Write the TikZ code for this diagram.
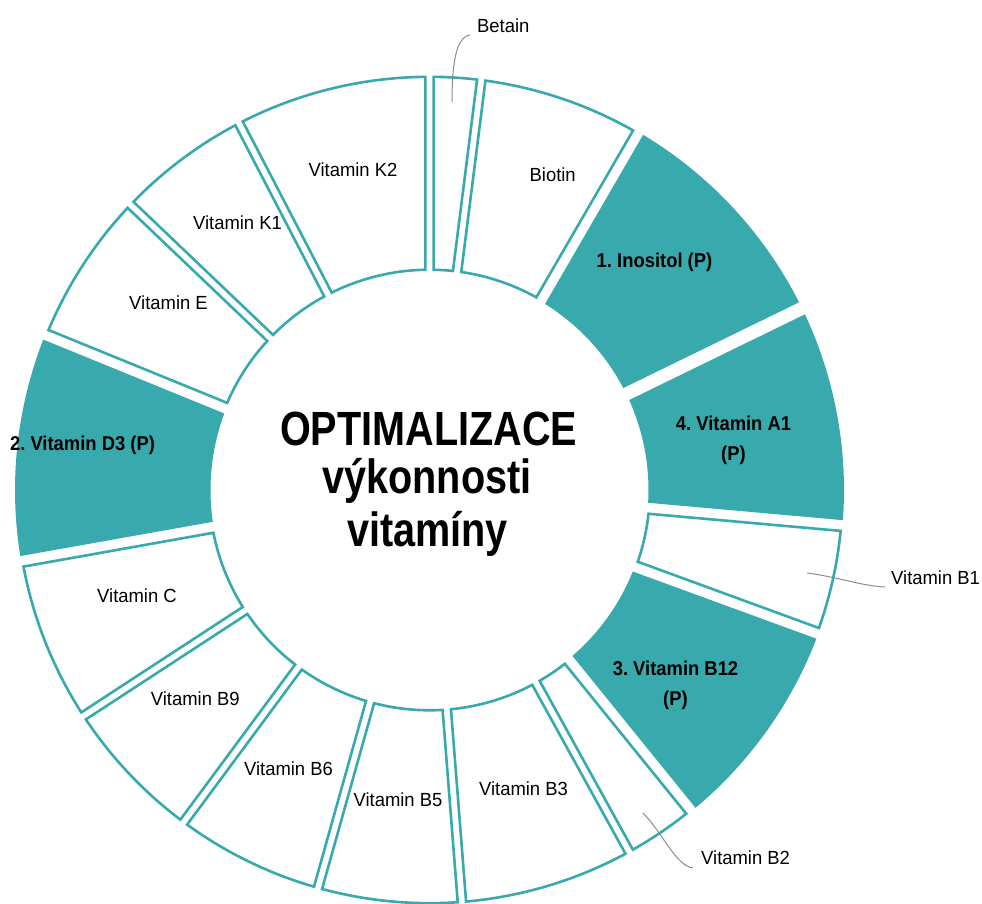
\documentclass[tikz,border=0pt]{standalone}
\usepackage{fontspec}
\setmainfont{Liberation Sans}
\newfontfamily\labfont[FakeStretch=0.97]{Liberation Sans}
\newfontfamily\boldlabfont[FakeStretch=0.92]{Liberation Sans}
\newfontfamily\titlefont[FakeStretch=0.825]{Liberation Sans}
\definecolor{tealone}{HTML}{38A9AC}
\definecolor{leadgray}{HTML}{8C8C8C}
\frenchspacing
% #1 start angle, #2 end angle, #3 style, #4 outer radius, #5 inner radius, #6 half gap
\newcommand{\donutseg}[6]{%
  \pgfmathsetmacro{\segsa}{#1+asin(#6/#4)}%
  \pgfmathsetmacro{\segea}{#2-asin(#6/#4)}%
  \pgfmathsetmacro{\segsb}{#1+asin(#6/#5)}%
  \pgfmathsetmacro{\segeb}{#2-asin(#6/#5)}%
  \path[#3] (\segsa:#4pt) arc[start angle=\segsa, end angle=\segea, radius=#4pt]
    -- (\segeb:#5pt) arc[start angle=\segeb, end angle=\segsb, radius=#5pt] -- cycle;
}
\newcommand{\tealseg}[2]{\donutseg{#1}{#2}{tealfill}{414.5}{219}{6.7}}
\newcommand{\whiteseg}[2]{\donutseg{#1}{#2}{whiteline}{413.2}{220.3}{4.2}}
\begin{document}
\begin{tikzpicture}[x=1pt,y=1pt,
  tealfill/.style={fill=tealone},
  whiteline/.style={fill=white, draw=tealone, line width=2.6pt, line join=miter},
  lab/.style={inner sep=0pt, font=\labfont\frenchspacing\fontsize{19}{22}\selectfont, text=black},
  boldlab/.style={inner sep=0pt, font=\boldlabfont\frenchspacing\bfseries\fontsize{20}{30}\selectfont, text=black, align=center},
  titlelab/.style={inner sep=0pt, font=\titlefont\bfseries\fontsize{48}{52}\selectfont, text=black},
  leader/.style={draw=leadgray, line width=1pt}]
\fill[white] (-429.5,-414) rectangle (552.5,490);
\useasboundingbox (-429.5,-414) rectangle (552.5,490);
% ring segments (math angles, counterclockwise)
\whiteseg{82.8}{90}        % Betain
\whiteseg{59.9}{82.8}      % Biotin
\tealseg{26.0}{59.9}       % Inositol
\tealseg{-5.1}{26.0}       % Vitamin A1
\whiteseg{-20.1}{-5.1}     % Vitamin B1
\tealseg{-51.0}{-20.1}     % Vitamin B12
\whiteseg{-61.1}{-51.0}    % Vitamin B2
\whiteseg{-85.5}{-61.1}    % Vitamin B3
\whiteseg{-105.65}{-85.5}  % Vitamin B5
\whiteseg{-126.5}{-105.65} % Vitamin B6
\whiteseg{-146.85}{-126.5} % Vitamin B9
\whiteseg{-169.9}{-146.85} % Vitamin C
\tealseg{157.8}{190.1}     % Vitamin D3
\whiteseg{136.35}{157.8}   % Vitamin E
\whiteseg{117.45}{136.35}  % Vitamin K1
\whiteseg{90}{117.45}      % Vitamin K2
\begin{scope}[shift={(-429.5,490)},yscale=-1]
  % title
  \node[titlelab, anchor=base] (title1) at (428.5,446) {OPTIMALIZACE};
  \node[titlelab, anchor=base] (title2) at (427,494) {výkonnosti};
  \node[titlelab, anchor=base] (title3) at (427.5,547) {vitamíny};
  % labels inside segments
  \node[lab, anchor=base] (biotin) at (552.7,182) {Biotin};
  \node[lab, anchor=base] (k2) at (353,177) {Vitamin K2};
  \node[lab, anchor=base] (k1) at (237.5,230) {Vitamin K1};
  \node[lab, anchor=base] (vite) at (168.5,310) {Vitamin E};
  \node[boldlab, anchor=base] (d3) at (82.5,450.5) {2. Vitamin D3 (P)};
  \node[lab, anchor=base] (vitc) at (137,603) {Vitamin C};
  \node[lab, anchor=base] (b9) at (195.3,705) {Vitamin B9};
  \node[lab, anchor=base] (b6) at (288.5,775) {Vitamin B6};
  \node[lab, anchor=base] (b5) at (398,806.5) {Vitamin B5};
  \node[lab, anchor=base] (b3) at (523.5,795) {Vitamin B3};
  \node[boldlab, anchor=north] (b12) at (675.5,660.5) {3. Vitamin B12\\(P)};
  \node[boldlab, anchor=north] (a1) at (733.5,415.5) {4. Vitamin A1\\(P)};
  \node[boldlab, anchor=base] (inositol) at (654.5,267.5) {1. Inositol (P)};
  % outside labels with leaders
  \node[lab, anchor=base west] (betain) at (477,32.5) {Betain};
  \node[lab, anchor=base west] (b1) at (891,584.5) {Vitamin B1};
  \node[lab, anchor=base west] (b2) at (701,864.5) {Vitamin B2};
  \coordinate (betA) at (452,102);
  \coordinate (betB) at (470,35);
  \coordinate (b1A) at (807,573);
  \coordinate (b1B) at (885,587);
  \coordinate (b2A) at (643,813);
  \coordinate (b2B) at (693,868);
  \draw[leader] (betA) .. controls (452,68) and (455,37) .. (betB);
  \draw[leader] (b1A) .. controls (838,577) and (862,586) .. (b1B);
  \draw[leader] (b2A) .. controls (662,832) and (676,866) .. (b2B);
\end{scope}
\end{tikzpicture}
\end{document}
